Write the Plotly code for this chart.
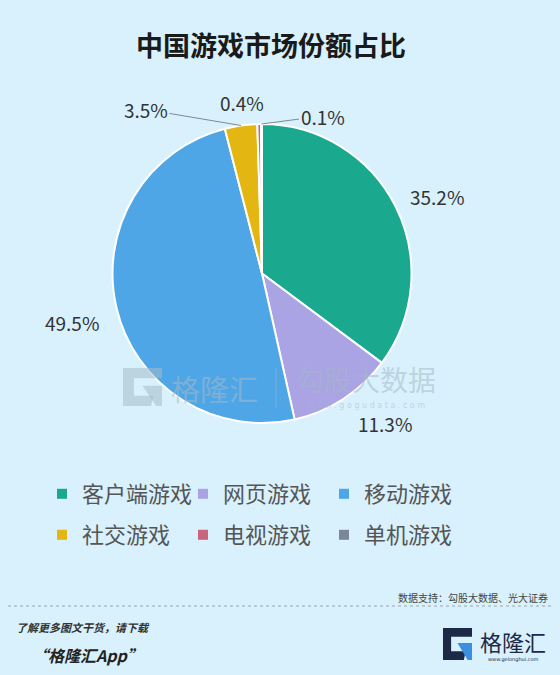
import math
import plotly.graph_objects as go

categories = ["客户端游戏", "网页游戏", "移动游戏", "社交游戏", "电视游戏", "单机游戏"]
shares = [35.2, 11.3, 49.5, 3.5, 0.4, 0.1]
colors = ["#1aa98f", "#aaa3e4", "#4ea6e6", "#e3b612", "#c96479", "#7d8699"]
legend_rows = [1, 1, 1, 2, 2, 2]
title_text = "中国游戏市场份额占比"
source_text = "数据支持：勾股大数据、光大证券"

FONT = "Noto Sans CJK SC"
BG = "#d8f1fc"
W, H = 560, 675

def py(p):
    return 1 - p / H

def px(p):
    return p / W

# pie geometry (pixels)
CX, CY, R = 262, 273.5, 149.5

fig = go.Figure()
fig.add_trace(go.Pie(
    labels=categories,
    values=shares,
    sort=False,
    direction="clockwise",
    rotation=0,
    marker=dict(colors=colors, line=dict(color="white", width=2)),
    textinfo="none",
    hoverinfo="label+percent",
    domain=dict(x=[px(CX - R), px(CX + R)], y=[py(CY + R), py(CY - R)]),
    showlegend=False,
))

# legend built from the categories, two rows
for cat, col, row in zip(categories, colors, legend_rows):
    fig.add_trace(go.Scatter(
        x=[None], y=[None], mode="markers", name=cat,
        marker=dict(symbol="square", size=10, color=col),
        legend="legend" if row == 1 else "legend2",
        hoverinfo="skip",
    ))

ann = []
# value labels placed relative to each slice's mid-angle point on the rim
# (dx, dy, leader line?)
label_offsets = [(41, -10, False), (42, 25, False), (-45, 14, False),
                 (-95, -16, True), (-17, -22, False), (61, -8, True)]
total = sum(shares)
cum = 0.0
for i, v in enumerate(shares):
    mid = (cum + v / 2) / total * 2 * math.pi
    cum += v
    tx = CX + R * math.sin(mid)
    ty = CY - R * math.cos(mid)
    dx, dy, arrow = label_offsets[i]
    lab = f"{v:.1f}%"
    f = dict(size=19, color="#333333", family=FONT)
    if arrow:
        ann.append(dict(text=lab, x=px(tx), y=py(ty), xref="paper", yref="paper",
                        showarrow=True, arrowhead=0, arrowwidth=1, arrowcolor="#7f8a90",
                        ax=dx, ay=dy, standoff=0, font=f))
    else:
        ann.append(dict(text=lab, x=px(tx), y=py(ty), xref="paper", yref="paper",
                        showarrow=False, xshift=dx, yshift=-dy,
                        xanchor="center", yanchor="middle", font=f))

ann.append(dict(text="<b>" + title_text + "</b>", x=px(271), y=py(45), xref="paper", yref="paper",
                showarrow=False, font=dict(size=27, color="#1a1a1a", family=FONT), xanchor="center", yanchor="middle"))
# watermark
wm = "rgba(165,185,200,0.55)"
ann.append(dict(text="格隆汇", x=px(214), y=py(388), xref="paper", yref="paper", showarrow=False,
                font=dict(size=29, color=wm, family=FONT), xanchor="center", yanchor="middle"))
ann.append(dict(text="勾股大数据", x=px(366), y=py(379), xref="paper", yref="paper", showarrow=False,
                font=dict(size=28, color=wm, family=FONT), xanchor="center", yanchor="middle"))
ann.append(dict(text="w w w . g o g u d a t a . c o m", x=px(366), y=py(405), xref="paper", yref="paper", showarrow=False,
                font=dict(size=8, color=wm, family="DejaVu Sans"), xanchor="center", yanchor="middle"))
# footer
ann.append(dict(text=source_text, x=px(550), y=py(597), xref="paper", yref="paper", showarrow=False,
                font=dict(size=10, color="#444444", family=FONT), xanchor="right", yanchor="middle"))
ann.append(dict(text="<b><i>了解更多图文干货，请下载</i></b>", x=px(14), y=py(627), xref="paper", yref="paper", showarrow=False,
                font=dict(size=11, color="#333333", family=FONT), xanchor="left", yanchor="middle"))
ann.append(dict(text="<b><i>“格隆汇App”</i></b>", x=px(30), y=py(655), xref="paper", yref="paper", showarrow=False,
                font=dict(size=16, color="#222222", family=FONT), xanchor="left", yanchor="middle"))
ann.append(dict(text="格隆汇", x=px(513), y=py(641), xref="paper", yref="paper", showarrow=False,
                font=dict(size=22, color="#1d2a47", family=FONT), xanchor="center", yanchor="middle"))
ann.append(dict(text="www.gelonghui.com", x=px(513), y=py(659), xref="paper", yref="paper", showarrow=False,
                font=dict(size=5, color="#1d2a47", family="DejaVu Sans"), xanchor="center", yanchor="middle"))


def logo_shapes(x0, y0, w, h, dark, accent):
    """Blocky 'G' logo drawn as paper-referenced paths (pixel box -> paper)."""
    def P(x, y):
        return f"{px(x0 + x * w):.5f},{py(y0 + y * h):.5f}"
    body = ("M" + P(0, 0) + " L" + P(1, 0) + " L" + P(1, 0.27) + " L" + P(0.28, 0.27)
            + " L" + P(0.28, 0.73) + " L" + P(0.78, 0.73) + " L" + P(0.72, 1) + " L" + P(0, 1) + " Z")
    tri = "M" + P(0.5, 0.47) + " L" + P(1, 0.47) + " L" + P(1, 1) + " L" + P(0.85, 1) + " Z"
    return [dict(type="path", xref="paper", yref="paper", path=body, fillcolor=dark, line=dict(width=0)),
            dict(type="path", xref="paper", yref="paper", path=tri, fillcolor=accent, line=dict(width=0))]


legend_common = dict(orientation="h", xanchor="left", yanchor="middle",
                     entrywidth=96, entrywidthmode="pixels",
                     font=dict(size=22, color="#555555", family=FONT),
                     bgcolor="rgba(0,0,0,0)")

shapes = [
    dict(type="line", xref="paper", yref="paper", x0=px(8), x1=px(552), y0=py(606), y1=py(606),
         line=dict(color="#9aa6ad", width=1, dash="dot")),
    dict(type="line", xref="paper", yref="paper", x0=px(276), x1=px(276), y0=py(368), y1=py(408),
         line=dict(color=wm, width=1)),
]
shapes += logo_shapes(123, 368, 39, 38, wm, wm)
shapes += logo_shapes(443, 628, 29, 32, "#1d2a47", "#3c8fe0")

fig.update_layout(
    width=W, height=H,
    margin=dict(l=0, r=0, t=0, b=0),
    paper_bgcolor=BG, plot_bgcolor=BG,
    font=dict(family=FONT),
    annotations=ann,
    xaxis=dict(visible=False), yaxis=dict(visible=False),
    legend=dict(x=px(42), y=py(494), **legend_common),
    legend2=dict(x=px(42), y=py(535), **legend_common),
    shapes=shapes,
)

fig.write_html("out.html", config={"displayModeBar": False},
               post_script="document.body.style.margin='0';")
